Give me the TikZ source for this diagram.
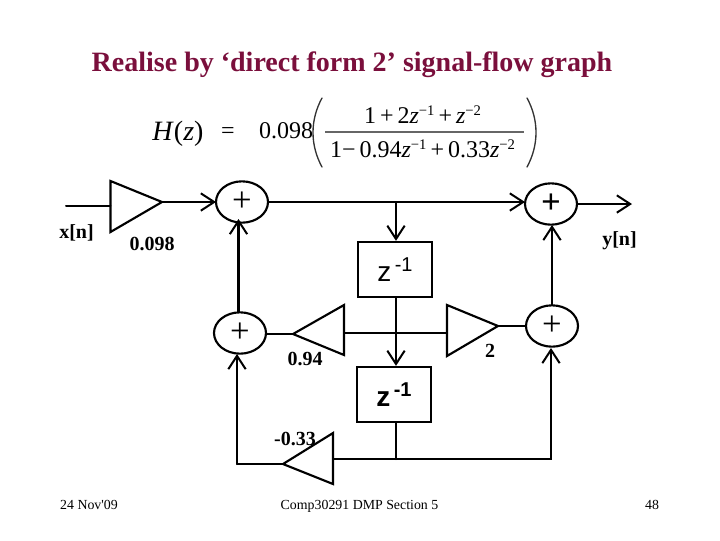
\documentclass[tikz,border=0pt]{standalone}
\usepackage{fontspec}
\setmainfont{Liberation Serif}
\newfontfamily\zfont{Liberation Sans}
\newfontfamily\footfont{Liberation Serif}
\usetikzlibrary{shapes.geometric,arrows.meta}
\definecolor{titlecol}{HTML}{7A0F3C}
\newcommand{\supr}[1]{\raisebox{5.5pt}{\fontsize{11}{11}\selectfont #1}}
\tikzset{
  x=0.75pt,y=-0.75pt,
  line/.style={draw=black,line width=1.5pt,line cap=round},
  thick line/.style={draw=black,line width=2.2pt},
  arr/.style={-{Straight Barb[length=10pt,width=13pt,line width=1.5pt]}},
  sum/.style={ellipse,draw=black,line width=1.6pt,minimum width=39pt,minimum height=31pt,inner sep=0pt,font=\fontsize{26}{26}\selectfont},
  delay/.style={rectangle,draw=black,line width=1.5pt,minimum width=55.5pt,minimum height=41.5pt,inner sep=0pt,font=\zfont\fontsize{21}{21}\selectfont},
  amp/.style={draw=black,line width=1.6pt,line join=miter,fill=none},
  lab/.style={inner sep=0pt,anchor=base,font=\bfseries\fontsize{15}{15}\selectfont},
  foot/.style={inner sep=0pt,anchor=base,font=\footfont\fontsize{10.4}{10.4}\selectfont},
  eqn/.style={inner sep=0pt,anchor=base,font=\fontsize{18}{18}\selectfont},
  paren/.style={draw=black!80,line width=1pt,line cap=round}
}
\begin{document}
\begin{tikzpicture}
\useasboundingbox (0,0) rectangle (720,540);
\node[inner sep=0pt,anchor=base,text=titlecol,font=\bfseries\fontsize{21}{21}\selectfont] (title) at (352,71) {Realise by ‘direct form 2’ signal-flow graph};
% equation
\node[eqn,font=\fontsize{21}{21}\selectfont] (hz) at (178,140) {\textit{H}(\textit{z})};
\node[eqn] (eq) at (228,138) {=};
\node[eqn] (coef) at (286,138) {0.098};
\coordinate (lpa) at (322,98); \coordinate (lpb) at (322,167);
\coordinate (lpc) at (310,120); \coordinate (lpd) at (310,145);
\coordinate (rpa) at (527,98); \coordinate (rpb) at (527,167);
\coordinate (rpc) at (539,120); \coordinate (rpd) at (539,145);
\draw[paren] (lpa) .. controls (lpc) and (lpd) .. (lpb);
\draw[paren] (rpa) .. controls (rpc) and (rpd) .. (rpb);
\node[eqn] (num) at (422.5,123) {1\,+\,2\textit{z}\supr{−1}\,+\,\textit{z}\supr{−2}};
\node[eqn] (den) at (422.5,157) {1−\,0.94\textit{z}\supr{−1}\,+\,0.33\textit{z}\supr{−2}};
\coordinate (barl) at (325,132); \coordinate (barr) at (524,132);
\draw[black!60,line width=0.8pt] (barl) -- (barr);
% summers
\node[sum] (s1) at (242,202) {\raisebox{-1.5pt}{+}};
\node[sum] (s2) at (240,333) {\raisebox{-1.5pt}{+}};
\node[sum] (s3) at (551,204) {\raisebox{-1.5pt}{\bfseries +}};
\node[sum] (s4) at (552,326) {\raisebox{-1.5pt}{+}};
% delays
\node[delay] (d1) at (395,269.5) {z\raisebox{7pt}{\fontsize{15}{15}\selectfont\,-1}};
\node[delay] (d2) at (394,394.5) {\bfseries z\raisebox{7pt}{\fontsize{15}{15}\selectfont\,-1}};
% amplifiers
\coordinate (a1a) at (110.5,181); \coordinate (a1b) at (110.5,232); \coordinate (a1t) at (162,202);
\coordinate (a2a) at (344,305); \coordinate (a2b) at (344,355); \coordinate (a2t) at (293,334);
\coordinate (a3a) at (447,305); \coordinate (a3b) at (447,356); \coordinate (a3t) at (498,326);
\coordinate (a4a) at (333,433); \coordinate (a4b) at (333,484); \coordinate (a4t) at (283,464);
\draw[amp] (a1a) -- (a1b) -- (a1t) -- cycle;
\draw[amp] (a2a) -- (a2b) -- (a2t) -- cycle;
\draw[amp] (a3a) -- (a3b) -- (a3t) -- cycle;
\draw[amp] (a4a) -- (a4b) -- (a4t) -- cycle;
% helpers
\coordinate (in) at (66,206);
\coordinate (ina) at (110.5,206);
\coordinate (out) at (632,204);
\coordinate (t1) at (396,202);
\coordinate (m1) at (396,333);
\coordinate (a2r) at (344,333);
\coordinate (a3l) at (447,333);
\coordinate (b1) at (396,459);
\coordinate (a4r) at (333,459);
\coordinate (br) at (551,459);
\coordinate (brm) at (551,450);
\coordinate (brt) at (551,348);
\coordinate (lc) at (237,464);
\coordinate (lct) at (237,354);
\coordinate (s1w) at (216,202);
\coordinate (s3w) at (525,202);
\coordinate (s1e) at (269,202);
\coordinate (upb) at (238.5,312);
\coordinate (upt) at (238.5,219);
\coordinate (s4n) at (552,305);
\coordinate (s3s) at (552,225);
\coordinate (s2e) at (266,334);
\coordinate (s4w) at (526,326);
% connectors
\draw[line] (in) -- (ina);
\draw[line,arr] (a1t) -- (s1w);
\draw[line,arr] (s1e) -- (s3w);
\draw[thick line,arr] (upb) -- (upt);
\draw[thick line] (a2t) -- (s2e);
\draw[line,arr] (t1) -- (d1.north -| t1);
\draw[line] (d1.south -| t1) -- (m1);
\draw[line,arr] (m1) -- (d2.north -| t1);
\draw[line] (a2r) -- (a3l);
\draw[line] (a3t) -- (s4w);
\draw[line,arr] (s4n) -- (s3s);
\draw[line] (d2.south -| b1) -- (b1);
\draw[line] (a4r) -- (br) -- (brm);
\draw[thick line,arr] (brm) -- (brt);
\draw[line] (a4t) -- (lc);
\draw[line,arr] (lc) -- (lct);
\draw[thick line,arr] (s3.east) -- (out);
% labels
\node[lab] (xn) at (76.5,238) {x[n]};
\node[lab] (g1) at (152,250) {0.098};
\node[lab] (g2) at (305,365) {0.94};
\node[lab] (g3) at (490,357) {2};
\node[lab] (g4) at (295,445) {-0.33};
\node[lab] (yn) at (619.5,245) {y[n]};
\node[foot] (fa) at (89,509) {24 Nov'09};
\node[foot] (fb) at (359.5,509) {Comp30291 DMP Section 5};
\node[foot] (fc) at (652,509) {48};
\end{tikzpicture}
\end{document}
